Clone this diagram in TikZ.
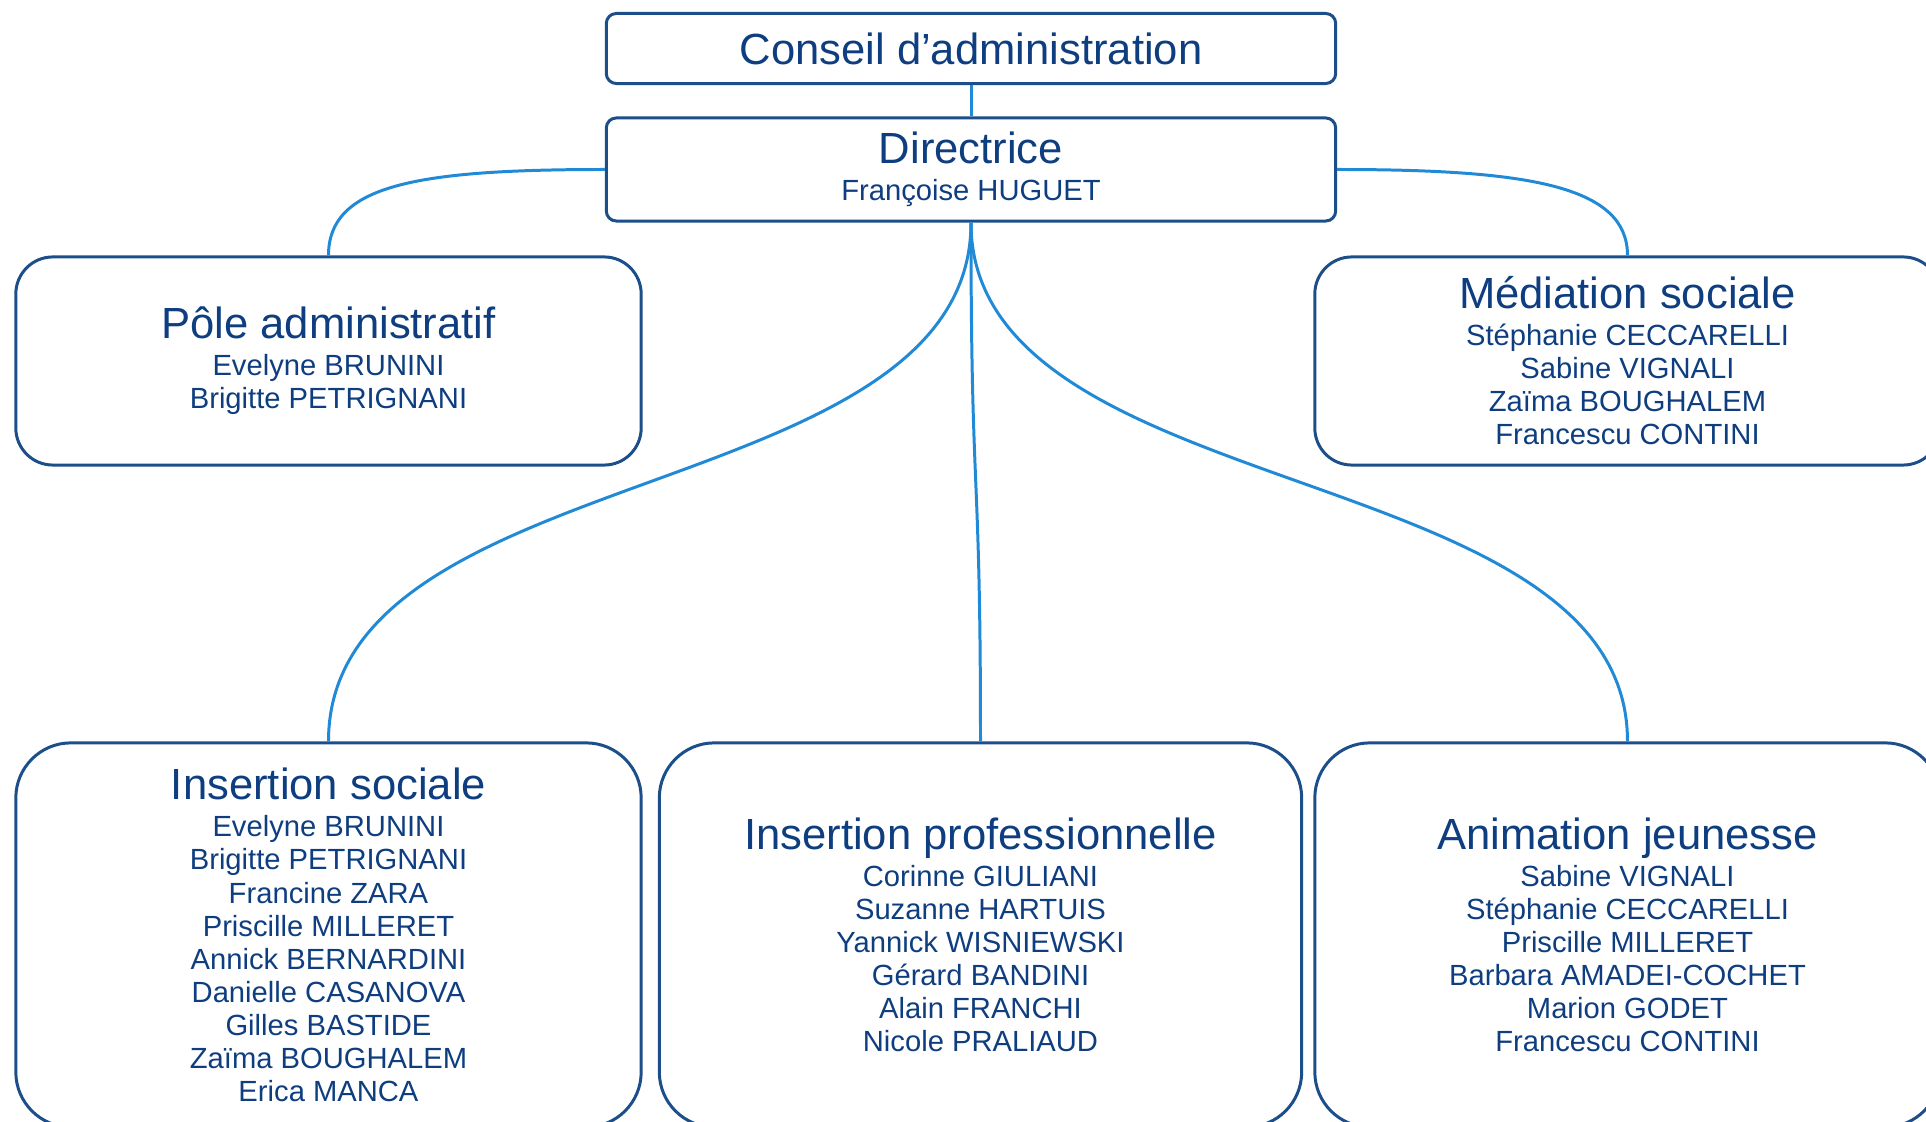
\documentclass[tikz,border=0pt]{standalone}
\usepackage{fontspec}
\setmainfont{Liberation Sans}
\usepackage{xcolor}
\RequirePackage{tikz}
\usetikzlibrary{positioning}
\definecolor{boxblue}{RGB}{28,78,138}
\definecolor{textblue}{RGB}{14,62,128}
\definecolor{linkblue}{RGB}{33,138,214}
\newcommand{\titre}{\fontsize{12.4}{14}\selectfont}
\newcommand{\nomfont}{\fontsize{8.3}{9.4}\selectfont}

\begin{document}
\begin{tikzpicture}[x=0.01cm, y=-0.01cm,
	service/.style={draw=boxblue, line width=0.85pt, fill=white, text=textblue, align=center, font=\nomfont, inner sep=0pt},
	lien/.style={draw=linkblue, line width=0.85pt}]
			\useasboundingbox (0,0) rectangle (1926,1122);
			\clip (0,0) rectangle (1926,1122);
			\node [service, rounded corners=0.1cm, minimum width=7.29cm, minimum height=0.70cm] (conseil) at (971,48.5) {\titre Conseil d’administration};
			\node [service, rounded corners=0.1cm, minimum width=7.29cm, minimum height=1.03cm] (dir) at (971,169.5) {{\titre Directrice}\\[1.1pt] Françoise HUGUET};
			\node [service, rounded corners=0.37cm, minimum width=6.25cm, minimum height=2.08cm] (admin) at (328.5,361) {{\titre Pôle administratif}\\[1.1pt] Evelyne BRUNINI\\ Brigitte PETRIGNANI};
			\node [service, rounded corners=0.37cm, minimum width=6.25cm, minimum height=2.08cm] (media) at (1627.5,361) {{\titre Médiation sociale}\\[1.1pt] Stéphanie CECCARELLI\\ Sabine VIGNALI\\ Zaïma BOUGHALEM\\ Francescu CONTINI};
			\node [service, rounded corners=0.55cm, minimum width=6.25cm, minimum height=3.84cm] (sociale) at (328.5,935) {{\titre Insertion sociale}\\[1.1pt] Evelyne BRUNINI\\ Brigitte PETRIGNANI\\ Francine ZARA\\ Priscille MILLERET\\ Annick BERNARDINI\\ Danielle CASANOVA\\ Gilles BASTIDE\\ Zaïma BOUGHALEM\\ Erica MANCA};
			\node [service, rounded corners=0.55cm, minimum width=6.42cm, minimum height=3.84cm] (pro) at (980.5,935) {{\titre Insertion professionnelle}\\[1.1pt] Corinne GIULIANI\\ Suzanne HARTUIS\\ Yannick WISNIEWSKI\\ Gérard BANDINI\\ Alain FRANCHI\\ Nicole PRALIAUD};
			\node [service, rounded corners=0.55cm, minimum width=6.25cm, minimum height=3.84cm] (anim) at (1627.5,935) {{\titre Animation jeunesse}\\[1.1pt] Sabine VIGNALI\\ Stéphanie CECCARELLI\\ Priscille MILLERET\\ Barbara AMADEI-COCHET\\ Marion GODET\\ Francescu CONTINI};
			\draw [lien] (conseil) -- (dir);
			\draw [lien] (dir.west) .. controls +(-190,0) and +(0,-70) .. (admin.north);
			\draw [lien] (dir.east) .. controls +(190,0) and +(0,-70) .. (media.north);
			\draw [lien] (dir.south) .. controls +(0,285) and +(0,-285) .. (sociale.north);
			\draw [lien] (dir.south) .. controls +(0,285) and +(0,-285) .. (pro.north);
			\draw [lien] (dir.south) .. controls +(0,285) and +(0,-285) .. (anim.north);
		\end{tikzpicture}
\end{document}
